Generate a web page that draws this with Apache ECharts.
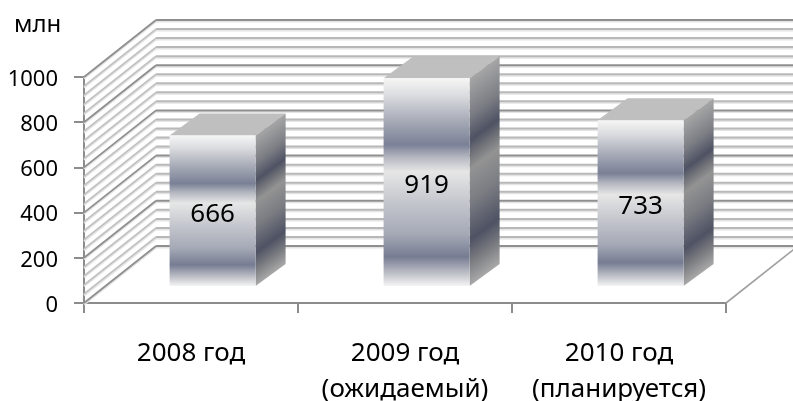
<!DOCTYPE html>
<html><head><meta charset="utf-8">
<style>html,body{margin:0;padding:0;background:#fff}#c{width:793px;height:401px}</style>
<script src="https://cdn.jsdelivr.net/npm/echarts@6/dist/echarts.min.js"></script>
</head><body><div id="c"></div>
<script>
const categories = ['2008 год', '2009 год\n(ожидаемый)', '2010 год\n(планируется)'];
const values = [666, 919, 733];
const unitLabel = 'млн';
const axisMax = 1000;
const majorStep = 200;
const minorStep = 40;

const FONT = '"Noto Sans", sans-serif';
const WALL_DX = 72, WALL_DY = -57;      // depth of the 3D box
const BAR_FRONT = 0.3;                  // bar's front face position in the depth
const BAR_DX = 30, BAR_DY = -22;        // depth of a bar
const BAR_W = 86;
const front = [[0,'#f6f6f6'],[0.08,'#dcdde0'],[0.2,'#a9adb9'],[0.32,'#7a8096'],[0.38,'#b4b7c0'],[0.45,'#e6e6e6'],[0.6,'#c4c6cd'],[0.75,'#a5a9b6'],[0.86,'#767c92'],[0.93,'#b6b8c1'],[1,'#f4f4f4']];
const side = [[0,'#a6a6a6'],[0.18,'#7b7d84'],[0.3,'#4e5263'],[0.36,'#6d6f76'],[0.44,'#939393'],[0.6,'#7a7c82'],[0.78,'#4e5263'],[0.9,'#7f8084'],[1,'#a8a8a8']];
const stops = s => s.map(([offset,color]) => ({offset,color}));

function renderWalls(params, api) {
  const cs = params.coordSys, kids = [];
  const x0 = cs.x, x1 = cs.x + cs.width;
  const line = (a,b,c,d,stroke,w) => ({type:'line',shape:{x1:a,y1:b,x2:c,y2:d},style:{stroke,lineWidth:w}});
  for (let v = 0; v <= axisMax; v += minorStep) {
    const y = api.coord([0, v])[1];
    const major = v % majorStep === 0;
    kids.push(line(x0+WALL_DX, y+WALL_DY+1.5, x1+WALL_DX, y+WALL_DY+1.5, '#e4e4e4', 2));
    kids.push(line(x0+WALL_DX, y+WALL_DY, x1+WALL_DX, y+WALL_DY, major ? '#8f8f8f' : '#b8b8b8', 2));
    kids.push(line(x0, y+1.4, x0+WALL_DX, y+WALL_DY+1.4, '#e2e2e2', 2));
    kids.push(line(x0, y, x0+WALL_DX, y+WALL_DY, major ? '#8f8f8f' : '#c0c0c0', major ? 1.8 : 1.6));
  }
  const yb = api.coord([0, 0])[1];
  kids.push(line(x1, yb, x1+WALL_DX, yb+WALL_DY, '#a0a0a0', 1.6));
  return {type:'group', children:kids};
}

function renderBar(params, api) {
  const c = api.coord([api.value(0), 0]), t = api.coord([api.value(0), api.value(1)]);
  const fx = BAR_FRONT*WALL_DX, fy = BAR_FRONT*WALL_DY;
  const l = c[0]+fx-BAR_W/2, r = l+BAR_W, b = c[1]+fy, top = t[1]+fy, h = b-top;
  const len2 = BAR_DX*BAR_DX+BAR_DY*BAR_DY;
  const k = h*BAR_DX/len2;
  const sideFill = {type:'linear', global:true, x:r, y:top, x2:r-BAR_DY*k, y2:top+BAR_DX*k, colorStops:stops(side)};
  return {type:'group', children:[
    {type:'polygon', shape:{points:[[l,top],[r,top],[r+BAR_DX,top+BAR_DY],[l+BAR_DX,top+BAR_DY]]}, style:{fill:'#bfbfbf'}},
    {type:'polygon', shape:{points:[[r,top],[r+BAR_DX,top+BAR_DY],[r+BAR_DX,b+BAR_DY],[r,b]]}, style:{fill:sideFill}},
    {type:'rect', shape:{x:l,y:top,width:BAR_W,height:h}, style:{fill:{type:'linear',x:0,y:0,x2:0,y2:1,colorStops:stops(front)}}},
    {type:'text', x:l+BAR_W/2, y:(top+b)/2+4, style:{text:String(api.value(1)), fill:'#000', font:'26px '+FONT, align:'center', verticalAlign:'middle'}}
  ]};
}

const chart = echarts.init(document.getElementById('c'), null, {renderer:'canvas'});
chart.setOption({
  animation:false,
  backgroundColor:'#fff',
  title:{text:unitLabel, left:9, top:8, textStyle:{fontFamily:FONT, fontSize:24, fontWeight:'normal', color:'#000'}},
  grid:{left:84, right:67, top:77, height:226, outerBoundsMode:'none'},
  xAxis:{type:'category', data:categories,
    axisLine:{lineStyle:{color:'#8c8c8c',width:2}},
    axisTick:{show:true,length:10,lineStyle:{color:'#8c8c8c',width:2}},
    axisLabel:{interval:0,margin:33,fontFamily:FONT,fontSize:26,color:'#000',lineHeight:36},
    splitLine:{show:false}},
  yAxis:{type:'value', min:0, max:axisMax, interval:majorStep,
    axisLine:{show:true,lineStyle:{color:'#8c8c8c',width:2}},
    axisTick:{show:true,length:10,lineStyle:{color:'#8c8c8c',width:2}},
    axisLabel:{margin:26,formatter:v=>'{n|'+v+'}',
      rich:{n:{fontFamily:FONT,fontSize:22,color:'#000',padding:[5,0,0,0]}}},
    splitLine:{show:false}},
  series:[
    {type:'custom', z:1, data:[[0,0]], encode:{x:0,y:1}, renderItem:renderWalls, silent:true},
    {type:'custom', z:2, data:values.map((v,i)=>[i,v]), encode:{x:0,y:1}, renderItem:renderBar, silent:true}
  ]
});
</script></body></html>
